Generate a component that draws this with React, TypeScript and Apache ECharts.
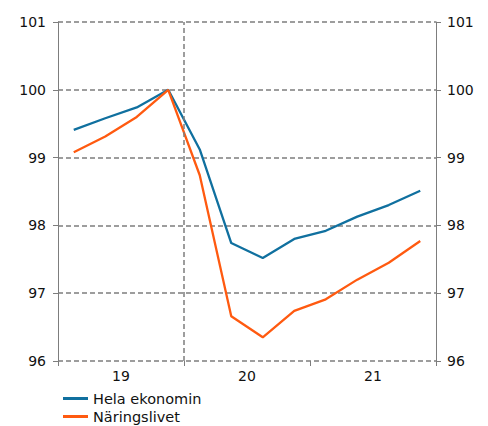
import React, { useEffect, useRef } from "react";
import * as echarts from "echarts";

const quarters = [
  "2019Q1", "2019Q2", "2019Q3", "2019Q4",
  "2020Q1", "2020Q2", "2020Q3", "2020Q4",
  "2021Q1", "2021Q2", "2021Q3", "2021Q4",
];
const yearLabels = ["19", "20", "21"];
const helaEkonomin = [99.41, 99.58, 99.74, 100, 99.12, 97.74, 97.52, 97.8, 97.92, 98.13, 98.3, 98.51];
const naringslivet = [99.08, 99.31, 99.6, 100, 98.74, 96.66, 96.35, 96.74, 96.91, 97.2, 97.45, 97.77];
const seriesNames = ["Hela ekonomin", "Näringslivet"];
const markerQuarterBoundary = 4;

const FONT = "DejaVu Sans, Verdana, sans-serif";
const GRAY = "#7d7d7d";
const TEXT = "#111111";
const DASH = { type: [5, 3] as number[], color: GRAY, width: 1.5 };
const BLUE = "#10709f";
const ORANGE = "#ff5a10";

export default function App() {
  const ref = useRef<HTMLDivElement>(null);
  useEffect(() => {
    document.body.style.margin = "0";
    if (!ref.current) return;
    const chart = echarts.init(ref.current, null, { renderer: "svg" });
    const toPoints = (arr: number[]) => arr.map((v, i) => [i + 0.5, v]);
    const yAxisCommon = {
      type: "value" as const,
      min: 96,
      max: 101,
      interval: 1,
      axisLine: { show: true, lineStyle: { color: GRAY, width: 1 } },
      axisTick: { show: true, length: 5, lineStyle: { color: GRAY } },
    };
    chart.setOption({
      animation: false,
      textStyle: { fontFamily: FONT },
      grid: { left: 58, right: 52, top: 22, bottom: 65, containLabel: false },
      xAxis: [
        {
          type: "value",
          min: 0,
          max: quarters.length,
          show: false,
          position: "bottom",
        },
        {
          type: "category",
          data: yearLabels,
          position: "bottom",
          boundaryGap: true,
          axisLine: { show: false },
          axisTick: { show: true, length: 5, lineStyle: { color: GRAY } },
          axisLabel: { fontSize: 14, color: TEXT, fontFamily: FONT, margin: 8 },
          splitLine: { show: false },
        },
      ],
      yAxis: [
        {
          ...yAxisCommon,
          position: "left",
          axisLabel: { fontSize: 14, color: TEXT, fontFamily: FONT, margin: 12 },
          splitLine: { show: true, lineStyle: DASH },
        },
        {
          ...yAxisCommon,
          position: "right",
          axisLabel: { fontSize: 14, color: TEXT, fontFamily: FONT, margin: 11 },
          splitLine: { show: false },
        },
      ],
      legend: {
        orient: "vertical",
        left: 63,
        top: 391,
        height: 50,
        icon: "rect",
        itemWidth: 25,
        itemHeight: 3,
        itemGap: 3,
        padding: 0,
        textStyle: { fontSize: 14.5, color: TEXT, fontFamily: FONT },
        data: seriesNames,
      },
      series: [
        {
          name: seriesNames[0],
          type: "line",
          xAxisIndex: 0,
          yAxisIndex: 0,
          data: toPoints(helaEkonomin),
          symbol: "none",
          lineStyle: { color: BLUE, width: 2.3 },
          itemStyle: { color: BLUE },
          markLine: {
            silent: true,
            symbol: ["none", "none"],
            label: { show: false },
            lineStyle: DASH,
            data: [{ xAxis: markerQuarterBoundary }],
          },
          z: 3,
        },
        {
          name: seriesNames[1],
          type: "line",
          xAxisIndex: 0,
          yAxisIndex: 0,
          data: toPoints(naringslivet),
          symbol: "none",
          lineStyle: { color: ORANGE, width: 2.3 },
          itemStyle: { color: ORANGE },
          z: 3,
        },
      ],
    });
    return () => chart.dispose();
  }, []);
  return <div ref={ref} style={{ width: 488, height: 426 }} />;
}
